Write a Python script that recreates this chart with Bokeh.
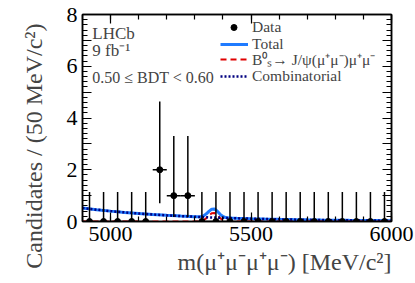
from bokeh.plotting import figure
from bokeh.models import (Range1d, LinearAxis, FixedTicker, Label, Legend, LegendItem,
                          ColumnDataSource, Title)
from bokeh.embed import file_html
from bokeh.resources import INLINE

# ---- data -------------------------------------------------------------
bin_centers = [4925, 4975, 5025, 5075, 5125, 5175, 5225, 5275, 5325, 5375, 5425,
               5475, 5525, 5575, 5625, 5675, 5725, 5775, 5825, 5875, 5925, 5975]
counts = [0, 0, 0, 0, 0, 2, 1, 1, 0, 0, 0, 0, 0, 0, 0, 0, 0, 0, 0, 0, 0, 0]
err_low = [0, 0, 0, 0, 0, 1.29, 0.83, 0.83, 0, 0, 0, 0, 0, 0, 0, 0, 0, 0, 0, 0, 0, 0]
err_high = [1.14, 1.14, 1.14, 1.14, 1.14, 2.64, 2.30, 2.30, 1.14, 1.14, 1.14,
            1.14, 1.14, 1.14, 1.14, 1.14, 1.14, 1.14, 1.14, 1.14, 1.14, 1.14]
bin_half_width = 25

curve_x = [4900, 4950, 5000, 5050, 5100, 5150, 5200, 5250, 5300, 5310, 5320, 5330,
           5340, 5350, 5360, 5370, 5380, 5390, 5400, 5410, 5420, 5430, 5450, 5500,
           5550, 5600, 5650, 5700, 5750, 5800, 5850, 5900, 5950, 6000]
comb_y = [0.520, 0.457, 0.401, 0.352, 0.309, 0.271, 0.238, 0.209, 0.184, 0.179,
          0.175, 0.170, 0.166, 0.161, 0.157, 0.153, 0.149, 0.146, 0.142, 0.138,
          0.135, 0.131, 0.124, 0.109, 0.096, 0.084, 0.074, 0.065, 0.057, 0.050,
          0.044, 0.039, 0.034, 0.030]
signal_y = [0, 0, 0, 0, 0, 0, 0, 0, 0.0, 0.002, 0.012, 0.045, 0.12, 0.23, 0.32,
            0.33, 0.25, 0.13, 0.05, 0.014, 0.003, 0.0, 0, 0, 0, 0, 0, 0, 0, 0,
            0, 0, 0, 0]
total_y = [c + s for c, s in zip(comb_y, signal_y)]

x_ticks = [5000, 5500, 6000]
y_ticks = [0, 1, 2, 3, 4, 5, 6, 7, 8]
y_tick_labels = {0: "0", 1: "", 2: "2", 3: "", 4: "4", 5: "", 6: "6", 7: "", 8: "8"}

FONT = "Liberation Serif"

p = figure(width=415, height=283, output_backend="svg", toolbar_location=None,
           x_range=Range1d(4900, 6000), y_range=Range1d(0, 8),
           min_border_left=82, min_border_right=24, min_border_top=14, min_border_bottom=62,
           background_fill_color="white", border_fill_color="white")
p.xgrid.visible = False
p.ygrid.visible = False
p.outline_line_color = "black"
p.outline_line_width = 1.5

xt = FixedTicker(ticks=x_ticks, minor_ticks=list(range(4900, 6001, 100)))
yt = FixedTicker(ticks=y_ticks, minor_ticks=[i * 0.2 for i in range(41)])


def style_axis(ax, labels=True):
    ax.major_tick_in = 9
    ax.major_tick_out = 0
    ax.minor_tick_in = 5
    ax.minor_tick_out = 0
    ax.axis_line_color = "black"
    ax.axis_line_width = 1.5
    ax.major_tick_line_width = 1.2
    ax.minor_tick_line_width = 1.2
    ax.major_label_text_font = FONT
    ax.major_label_text_font_size = "22px"
    ax.major_label_text_color = "black"
    if not labels:
        ax.major_label_text_font_size = "0px"
        ax.major_label_text_alpha = 0
        ax.major_label_standoff = 0


xa = p.xaxis[0]
xa.ticker = xt
style_axis(xa)
xa.major_label_standoff = 5
ya = p.yaxis[0]
ya.ticker = yt
style_axis(ya)
ya.major_label_standoff = 5
ya.major_label_overrides = y_tick_labels

ra = LinearAxis(ticker=yt)
style_axis(ra, labels=False)
ra.major_label_overrides = {k: "" for k in y_ticks}
p.add_layout(ra, "right")
ta = LinearAxis(ticker=xt)
style_axis(ta, labels=False)
ta.major_label_overrides = {k: "" for k in x_ticks}
p.add_layout(ta, "above")

# ---- curves -----------------------------------------------------------
r_total = p.line(curve_x, total_y, line_color="#1f7bff", line_width=3)
r_sig = p.line(curve_x, signal_y, line_color="#e00000", line_width=2, line_dash="6 4")
r_comb = p.line(curve_x, comb_y, line_color="#000080", line_width=2.5, line_dash="2 2")

# ---- data points with errors -----------------------------------------
src = ColumnDataSource(dict(
    x=bin_centers, y=counts,
    lo=[c - e for c, e in zip(counts, err_low)],
    hi=[c + e for c, e in zip(counts, err_high)],
    xl=[x - bin_half_width for x in bin_centers],
    xr=[x + bin_half_width for x in bin_centers],
))
p.segment(x0="x", y0="lo", x1="x", y1="hi", source=src, line_color="black", line_width=1.5)
p.segment(x0="xl", y0="y", x1="xr", y1="y", source=src, line_color="black", line_width=1.5)
r_data = p.scatter("x", "y", source=src, size=6, color="black")

# ---- legend (one entry per box so that rows are evenly placed) --------
legend_entries = [
    ("Data", r_data, 181, 144, 15, 11),
    ("Total", r_total, 164, 138, 28, 4),
    ("B⁰ₛ→ J/ψ(μ⁺μ⁻)μ⁺μ⁻", r_sig, 149, 138, 28, 4),
    ("Combinatorial", r_comb, 132, 138, 28, 4),
]
for lab, rend, ypos, xpos, gw, so in legend_entries:
    lg = Legend(items=[LegendItem(label=lab, renderers=[rend])],
                location=(xpos, ypos), orientation="vertical",
                label_text_font=FONT, label_text_font_size="15.5px",
                glyph_width=gw, glyph_height=26, label_height=26, label_standoff=so,
                spacing=0, padding=0, margin=0,
                border_line_alpha=0, background_fill_alpha=0)
    p.add_layout(lg, "center")

# ---- texts ------------------------------------------------------------
p.add_layout(Label(x=4935, y=7.27, text="LHCb", text_font=FONT, text_font_size="17px",
                   text_baseline="middle"))
p.add_layout(Label(x=4935, y=6.61, text="9 fb⁻¹", text_font=FONT, text_font_size="17px",
                   text_baseline="middle"))
p.add_layout(Label(x=4935, y=5.58, text="0.50 ≤ BDT < 0.60", text_font=FONT,
                   text_font_size="16px", text_baseline="middle"))

p.add_layout(Title(text="m(μ⁺μ⁻μ⁺μ⁻) [MeV/c²]", text_font=FONT, text_font_size="24px",
                   text_font_style="normal", align="right", standoff=7, offset=0), "below")
p.add_layout(Title(text="Candidates / (50 MeV/c²)", text_font=FONT, text_font_size="24px",
                   text_font_style="normal", align="right", standoff=34, offset=9), "left")

open("out.html", "w").write(file_html(p, INLINE))
